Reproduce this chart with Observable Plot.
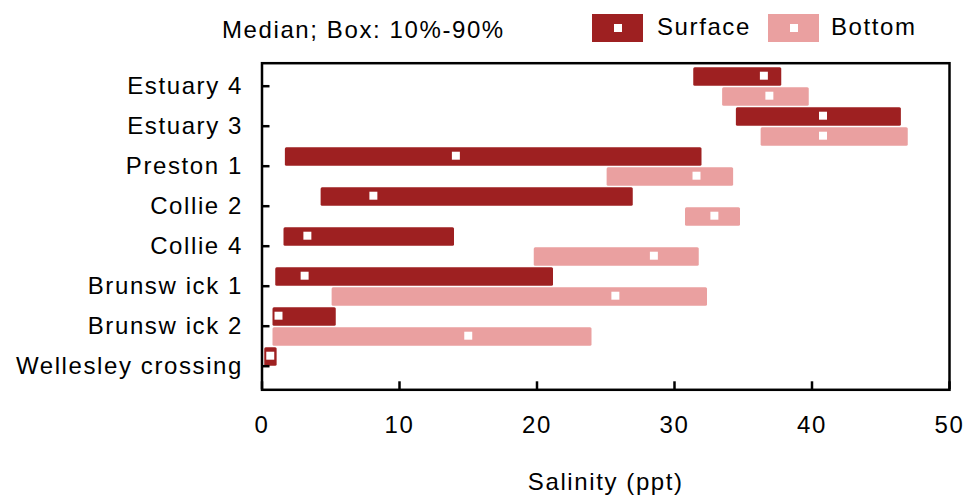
<!DOCTYPE html>
<html><head><meta charset="utf-8">
<script src="https://cdn.jsdelivr.net/npm/d3@7"></script>
<script src="https://cdn.jsdelivr.net/npm/@observablehq/plot@0.6"></script>
<style>
body{margin:0;background:#fff;font-family:"Liberation Sans",Arial,sans-serif;}
#wrap{position:relative;width:966px;height:495px;overflow:hidden;}
#legend{position:relative;width:966px;height:50px;font-size:24px;letter-spacing:1.6px;color:#000;}
.lt{position:absolute;line-height:28px;white-space:nowrap;}
.sw{position:absolute;top:14px;height:28px;}
.sw i{position:absolute;left:50%;top:50%;width:8px;height:8px;margin:-4px 0 0 -4px;background:#fff;}
</style></head><body>
<div id="wrap"><div id="legend"></div><div id="chart"></div></div>
<script>
const categories = ["Estuary 4","Estuary 3","Preston 1","Collie 2","Collie 4","Brunsw ick 1","Brunsw ick 2","Wellesley crossing"];
const surfaceP10 = [31.4, 34.5, 1.7, 4.3, 1.6, 1.0, 0.8, 0.2];
const surfaceP90 = [37.8, 46.5, 32.0, 27.0, 14.0, 21.2, 5.4, 1.1];
const surfaceMed = [36.5, 40.8, 14.1, 8.1, 3.3, 3.1, 1.2, 0.6];
const bottomP10 = [33.5, 36.3, 25.1, 30.8, 19.8, 5.1, 0.8, null];
const bottomP90 = [39.8, 47.0, 34.3, 34.8, 31.8, 32.4, 24.0, null];
const bottomMed = [36.9, 40.8, 31.6, 32.9, 28.5, 25.7, 15.0, null];
const seriesNames = ["Surface","Bottom"];
const seriesColors = ["#9E2021","#EAA0A0"];
const xTicks = [0,10,20,30,40,50];
const xTitle = "Salinity (ppt)";
const legendNote = "Median; Box: 10%-90%";

const rows = [];
categories.forEach((c,i)=>{
  if (surfaceP10[i]!=null) rows.push({series:"Surface", cat:c, lo:surfaceP10[i], hi:surfaceP90[i], med:surfaceMed[i], y1:i-0.5, y2:i, ym:i-0.25});
  if (bottomP10[i]!=null) rows.push({series:"Bottom", cat:c, lo:bottomP10[i], hi:bottomP90[i], med:bottomMed[i], y1:i, y2:i+0.5, ym:i+0.25});
});

// legend (HTML)
const lg = document.getElementById("legend");
const note = document.createElement("div");
note.className="lt"; note.style.left="222px"; note.style.top="15.5px"; note.textContent=legendNote;
lg.appendChild(note);
const legendX = [[592,657],[768,831]];
seriesNames.forEach((s,k)=>{
  const sw=document.createElement("div"); sw.className="sw";
  sw.style.left=legendX[k][0]+"px"; sw.style.width="51px"; sw.style.background=seriesColors[k];
  sw.appendChild(document.createElement("i")); lg.appendChild(sw);
  const t=document.createElement("div"); t.className="lt"; t.style.left=legendX[k][1]+"px"; t.style.top="13px"; t.textContent=s; lg.appendChild(t);
});

const chart = Plot.plot({
  width:966, height:445,
  marginTop:12.7, marginBottom:105.7, marginLeft:261.5, marginRight:17,
  style:{fontFamily:"'Liberation Sans', Arial, sans-serif", fontSize:"24px", letterSpacing:"1.6px", color:"#000", background:"#fff", overflow:"visible"},
  x:{domain:[0,50]},
  y:{domain:[-0.6,7.565], reverse:true},
  color:{domain:seriesNames, range:seriesColors},
  marks:[
    Plot.rect(rows,{x1:"lo",x2:"hi",y1:"y1",y2:"y2",fill:"series",insetTop:0.6,insetBottom:1,rx:1.5}),
    Plot.dot(rows,{x:"med",y:"ym",symbol:"square",r:4.5,fill:"white",dy:-1.5}),
    Plot.axisX(xTicks,{tickSize:-8, tickPadding:33.7, strokeWidth:2.5, label:null}),
    Plot.axisY(d3.range(categories.length),{tickSize:-8, tickPadding:27, tickFormat:i=>categories[i], strokeWidth:2.5, label:null, dy:-1}),
    Plot.frame({stroke:"black", strokeWidth:2.5}),
    Plot.text([xTitle],{text:d=>d, frameAnchor:"bottom", lineAnchor:"bottom", dy:99.7})
  ]
});
document.getElementById("chart").appendChild(chart);
</script>
</body></html>
